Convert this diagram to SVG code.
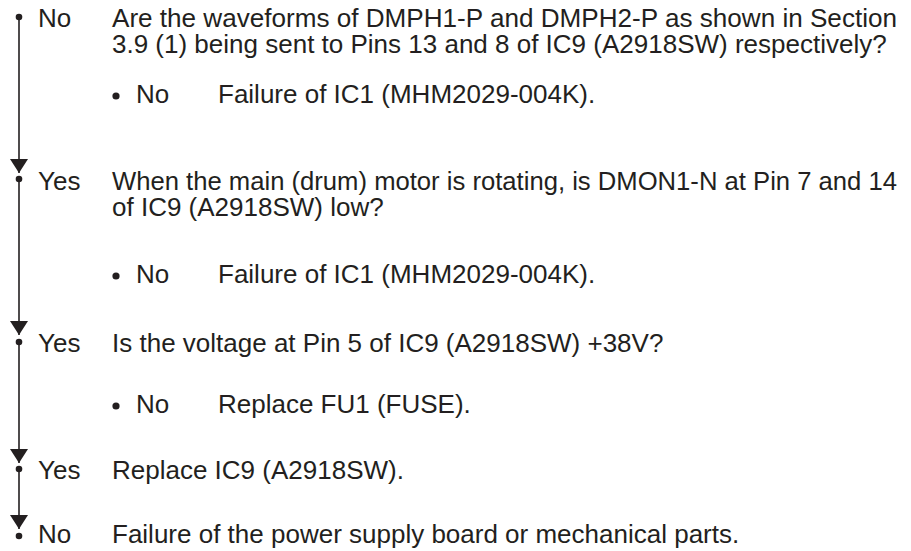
<svg xmlns="http://www.w3.org/2000/svg" width="911" height="551" viewBox="0 0 911 551">
<style>
text{font-family:"Liberation Sans",Arial,sans-serif;font-size:26px;fill:#231f20}
.dot{fill:#231f20}
.link{stroke:#231f20;stroke-width:1.6;fill:none}
</style>
<defs>
<marker id="arr" markerUnits="userSpaceOnUse" markerWidth="15" markerHeight="18" refX="14" refY="9" orient="auto" viewBox="0 0 14 18">
<path d="M0,0 L14,9 L0,18 Z" fill="#231f20"/>
</marker>
</defs>
<rect width="911" height="551" fill="#fff"/>
<g id="connectors">
<line class="link" x1="19" y1="17" x2="19" y2="173" marker-end="url(#arr)"/>
<line class="link" x1="19" y1="179" x2="19" y2="335" marker-end="url(#arr)"/>
<line class="link" x1="19" y1="342" x2="19" y2="463" marker-end="url(#arr)"/>
<line class="link" x1="19" y1="469" x2="19" y2="529" marker-end="url(#arr)"/>
</g>
<g id="step1">
<circle class="dot" cx="19" cy="17" r="3.3"/>
<text x="38" y="27">No</text>
<text x="112" y="27" textLength="785" lengthAdjust="spacingAndGlyphs">Are the waveforms of DMPH1-P and DMPH2-P as shown in Section</text>
<text x="112" y="53">3.9 (1) being sent to Pins 13 and 8 of IC9 (A2918SW) respectively?</text>
</g>
<g id="step1-no">
<circle class="dot" cx="116" cy="96" r="3.6"/>
<text x="136" y="103">No</text>
<text x="218" y="103">Failure of IC1 (MHM2029-004K).</text>
</g>
<g id="step2">
<circle class="dot" cx="19" cy="179" r="3.3"/>
<text x="38" y="190">Yes</text>
<text x="112" y="190" textLength="785" lengthAdjust="spacingAndGlyphs">When the main (drum) motor is rotating, is DMON1-N at Pin 7 and 14</text>
<text x="112" y="216">of IC9 (A2918SW) low?</text>
</g>
<g id="step2-no">
<circle class="dot" cx="116" cy="276" r="3.6"/>
<text x="136" y="283">No</text>
<text x="218" y="283">Failure of IC1 (MHM2029-004K).</text>
</g>
<g id="step3">
<circle class="dot" cx="19" cy="342" r="3.3"/>
<text x="38" y="352">Yes</text>
<text x="112" y="352">Is the voltage at Pin 5 of IC9 (A2918SW) +38V?</text>
</g>
<g id="step3-no">
<circle class="dot" cx="116" cy="406" r="3.6"/>
<text x="136" y="413">No</text>
<text x="218" y="413">Replace FU1 (FUSE).</text>
</g>
<g id="step4">
<circle class="dot" cx="19" cy="469" r="3.3"/>
<text x="38" y="479">Yes</text>
<text x="112" y="479">Replace IC9 (A2918SW).</text>
</g>
<g id="step5">
<circle class="dot" cx="19" cy="536" r="3.3"/>
<text x="38" y="543">No</text>
<text x="112" y="543">Failure of the power supply board or mechanical parts.</text>
</g>
</svg>
